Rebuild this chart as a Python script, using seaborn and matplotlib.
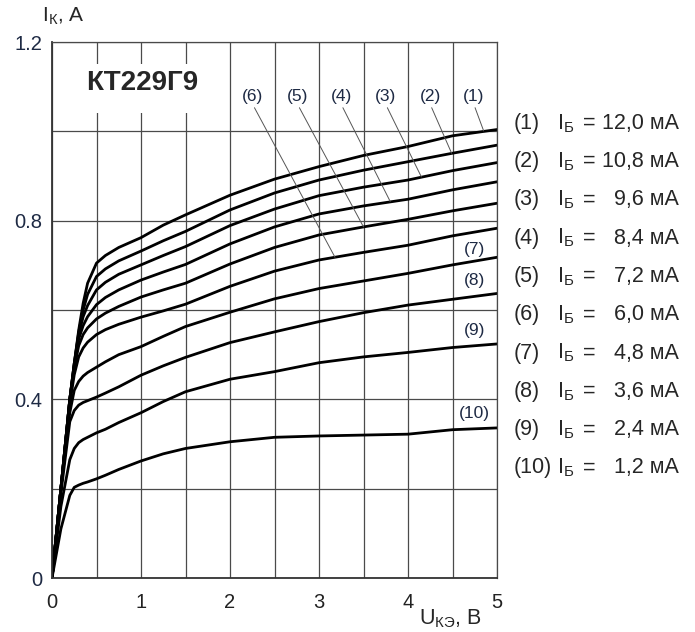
import numpy as np
import pandas as pd
import matplotlib
matplotlib.use("Agg")
import matplotlib.pyplot as plt
import seaborn as sns
from matplotlib.patches import Rectangle

# collector voltage points (V)
u_ce = [0, 0.1, 0.2, 0.25, 0.3, 0.35, 0.4, 0.5, 0.6, 0.75,
        1.0, 1.25, 1.5, 2.0, 2.5, 3.0, 3.5, 4.0, 4.5, 5.0]

# collector current (A) for each base current
ic_1 = [0, 0.20, 0.40, 0.48, 0.555, 0.615, 0.66, 0.705, 0.722, 0.740,
        0.762, 0.790, 0.813, 0.857, 0.893, 0.921, 0.946, 0.966, 0.990, 1.004]
ic_2 = [0, 0.20, 0.40, 0.48, 0.55, 0.60, 0.635, 0.675, 0.692, 0.710,
        0.732, 0.755, 0.776, 0.824, 0.862, 0.891, 0.913, 0.932, 0.951, 0.969]
ic_3 = [0, 0.20, 0.40, 0.48, 0.545, 0.585, 0.61, 0.645, 0.662, 0.680,
        0.701, 0.722, 0.742, 0.789, 0.826, 0.856, 0.875, 0.891, 0.912, 0.930]
ic_4 = [0, 0.20, 0.40, 0.475, 0.535, 0.565, 0.585, 0.612, 0.628, 0.645,
        0.667, 0.685, 0.702, 0.748, 0.786, 0.815, 0.833, 0.848, 0.869, 0.887]
ic_5 = [0, 0.20, 0.40, 0.47, 0.52, 0.545, 0.56, 0.58, 0.593, 0.608,
        0.629, 0.645, 0.660, 0.703, 0.740, 0.768, 0.786, 0.803, 0.822, 0.839]
ic_6 = [0, 0.20, 0.39, 0.455, 0.495, 0.515, 0.528, 0.545, 0.556, 0.568,
        0.584, 0.598, 0.613, 0.653, 0.687, 0.712, 0.729, 0.745, 0.766, 0.783]
ic_7 = [0, 0.20, 0.37, 0.42, 0.44, 0.452, 0.46, 0.472, 0.484, 0.500,
        0.518, 0.541, 0.563, 0.595, 0.625, 0.648, 0.665, 0.682, 0.701, 0.718]
ic_8 = [0, 0.19, 0.35, 0.375, 0.387, 0.393, 0.397, 0.405, 0.414, 0.428,
        0.454, 0.475, 0.494, 0.527, 0.551, 0.574, 0.594, 0.611, 0.624, 0.637]
ic_9 = [0, 0.16, 0.265, 0.29, 0.303, 0.31, 0.315, 0.325, 0.333, 0.348,
        0.370, 0.395, 0.417, 0.445, 0.462, 0.482, 0.495, 0.505, 0.516, 0.524]
ic_10 = [0, 0.11, 0.185, 0.203, 0.208, 0.212, 0.215, 0.222, 0.230, 0.243,
         0.262, 0.278, 0.290, 0.305, 0.315, 0.318, 0.320, 0.322, 0.332, 0.336]

curves = [ic_1, ic_2, ic_3, ic_4, ic_5, ic_6, ic_7, ic_8, ic_9, ic_10]
base_labels = ["12,0", "10,8", "9,6", "8,4", "7,2", "6,0", "4,8", "3,6", "2,4", "1,2"]

# labels with leader lines: (label x, point on curve x, point on curve y)
top_labels = [(4.74, 4.85, 1.001), (4.25, 4.49, 0.951), (3.75, 4.15, 0.898),
              (3.25, 3.80, 0.843), (2.76, 3.50, 0.786), (2.255, 3.18, 0.718)]
side_labels = [(7, 0.736), (8, 0.667), (9, 0.554), (10, 0.369)]

rows = []
for n, ic in enumerate(curves, start=1):
    for u, i in zip(u_ce, ic):
        rows.append({"U": u, "I": i, "curve": n})
df = pd.DataFrame(rows)

sns.set_style("white")
plt.rcParams["font.family"] = ["Liberation Sans", "DejaVu Sans"]
plt.rcParams["mathtext.fontset"] = "custom"
plt.rcParams["mathtext.rm"] = "Liberation Sans"

W, H = 695, 632
fig = plt.figure(figsize=(W / 100, H / 100), dpi=100)
ax = fig.add_axes([52 / W, 1 - 578 / H, 445 / W, 536 / H])

sns.lineplot(data=df, x="U", y="I", hue="curve", palette=["black"] * 10,
             estimator=None, sort=False, legend=False, linewidth=2.0, ax=ax)

ax.set_xlim(0, 5)
ax.set_ylim(0, 1.2)
ax.set_xticks([0, 1, 2, 3, 4, 5])
ax.set_xticks(np.arange(0.5, 5, 1.0), minor=True)
ax.set_yticks([0, 0.4, 0.8, 1.2])
ax.set_yticks([0.2, 0.6, 1.0], minor=True)
ax.set_yticklabels(["0", "0.4", "0.8", "1.2"])
ax.grid(True, which="both", color="#4a4a4a", linewidth=0.9)
ax.tick_params(which="both", length=0)
ax.tick_params(axis="y", pad=7, labelsize=14.5, labelcolor="#1e2a44")
ax.tick_params(axis="x", pad=11, labelsize=14.5, labelcolor="#222222")
ax.set_xlabel("")
ax.set_ylabel("")
for side in ["top", "right"]:
    ax.spines[side].set_color("#4a4a4a")
    ax.spines[side].set_linewidth(0.9)
for side in ["left", "bottom"]:
    ax.spines[side].set_color("#333333")
    ax.spines[side].set_linewidth(1.3)

# title box over the grid
ax.add_patch(Rectangle((32 / 445, 465 / 536), 116 / 445, 49 / 536,
                       transform=ax.transAxes, facecolor="white",
                       edgecolor="none", zorder=3))
ax.text(0.2022, 0.9235, "КТ229Г9", transform=ax.transAxes, ha="center",
        va="center", fontsize=20, fontweight="bold", zorder=4,
        family=["Liberation Sans Narrow", "Liberation Sans"])

for k, (lx, px, py) in enumerate(top_labels, start=1):
    ax.annotate(f"({k})", xy=(px, py), xytext=(lx, 1.077), ha="center",
                va="center", fontsize=12.5, color="#1e2a44",
                arrowprops=dict(arrowstyle="-", color="#555555", lw=0.7,
                                shrinkA=0, shrinkB=0, relpos=(0.5, 0)))
for k, ly in side_labels:
    ax.text(4.745, ly, f"({k})", ha="center", va="center", fontsize=12.5,
            color="#1e2a44")

# axis labels
fig.text(42 / W, 1 - 16 / H, r"I$_\mathregular{К}$, A", ha="left",
         va="center", fontsize=15)
fig.text(419 / W, 1 - 619 / H, r"U$_\mathregular{КЭ}$, B", ha="left",
         va="center", fontsize=15.5)

# legend of base currents
for k, val in enumerate(base_labels):
    y = 1 - (123.3 + k * 38.3) / H
    fig.text(514 / W, y, f"({k + 1})", ha="left", va="center", fontsize=15.5)
    fig.text(557 / W, y, r"I$_\mathregular{Б}$", ha="left", va="center",
             fontsize=15.5)
    fig.text(583 / W, y, "=", ha="left", va="center", fontsize=15.5)
    fig.text(679 / W, y, f"{val} мА", ha="right", va="center", fontsize=15.5)

fig.savefig("out.png", dpi=100, facecolor="white")
